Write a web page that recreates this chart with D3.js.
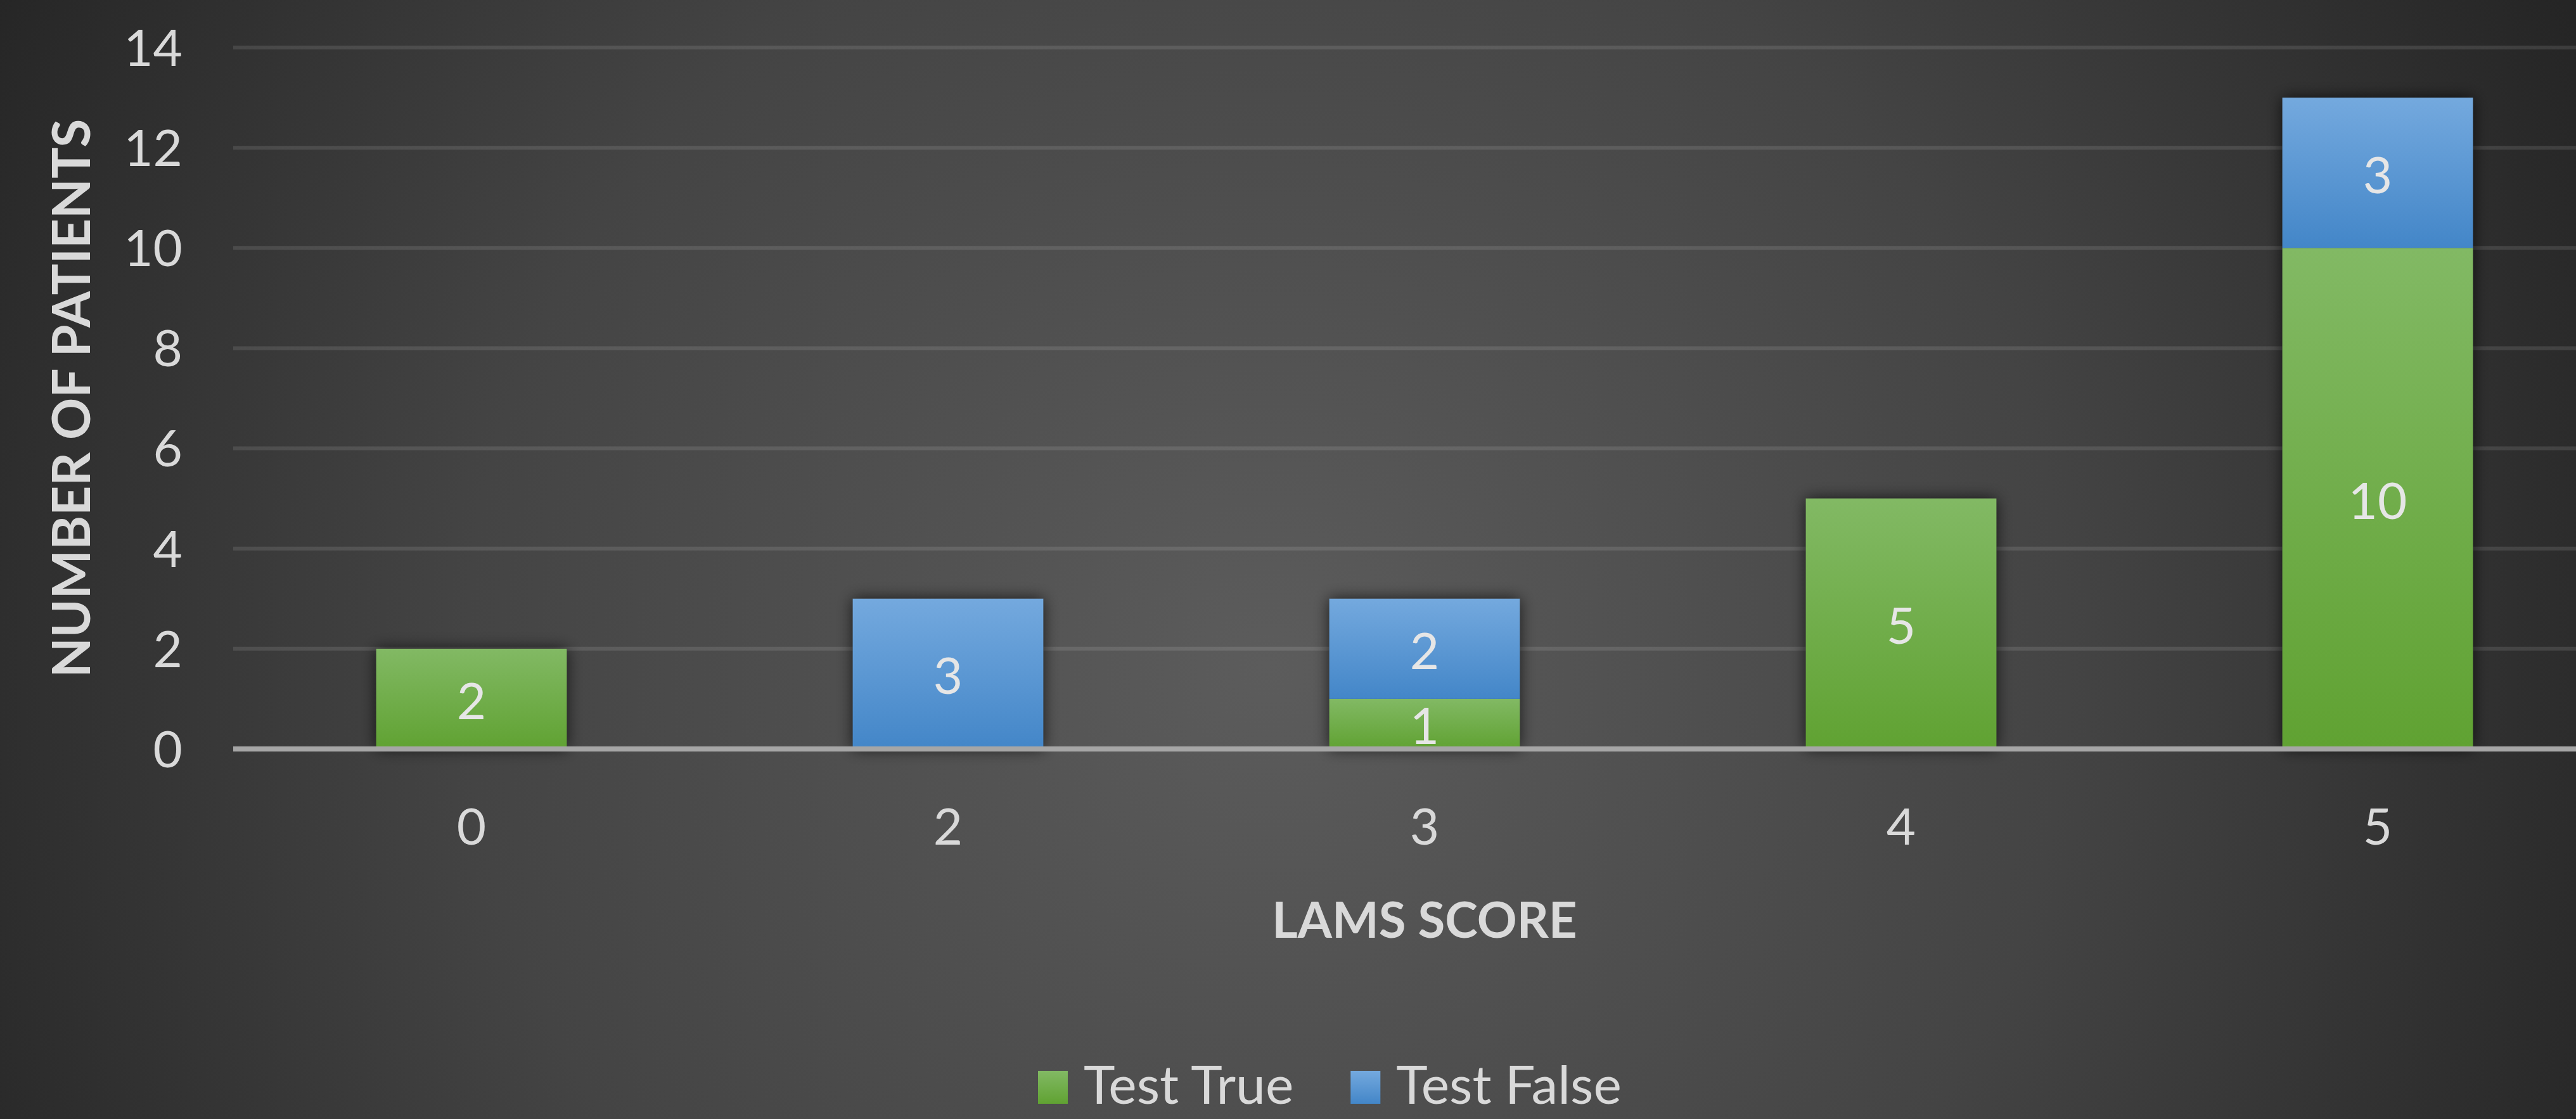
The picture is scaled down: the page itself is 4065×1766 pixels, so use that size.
<!DOCTYPE html>
<html>
<head>
<meta charset="utf-8">
<script src="https://cdn.jsdelivr.net/npm/d3@7"></script>
<style>
  html, body { margin: 0; padding: 0; background: #2b2b2b; }
  svg { display: block; font-family: Lato, "Open Sans", sans-serif; }
</style>
</head>
<body>
<svg width="4065" height="1766"></svg>
<script>
// chart values
var categories = ["0", "2", "3", "4", "5"];
var testTrue  = [2, 0, 1, 5, 10];
var testFalse = [0, 3, 2, 0, 3];
var seriesNames = ["Test True", "Test False"];
var yTicks = [0, 2, 4, 6, 8, 10, 12, 14];

var svg = d3.select("svg"),
    width = +svg.attr("width"),
    height = +svg.attr("height");

var defs = svg.append("defs");

// background radial gradient
var bg = defs.append("radialGradient")
    .attr("id", "bg")
    .attr("gradientUnits", "userSpaceOnUse")
    .attr("cx", 2000).attr("cy", 1050).attr("r", 2300);
bg.append("stop").attr("offset", "0%").attr("stop-color", "#5c5c5c");
bg.append("stop").attr("offset", "55%").attr("stop-color", "#444444");
bg.append("stop").attr("offset", "100%").attr("stop-color", "#252525");

function barGradient(id, top, bottom) {
  var lg = defs.append("linearGradient")
      .attr("id", id)
      .attr("x1", 0).attr("y1", 0).attr("x2", 0).attr("y2", 1);
  lg.append("stop").attr("offset", "0%").attr("stop-color", top);
  lg.append("stop").attr("offset", "100%").attr("stop-color", bottom);
}
barGradient("gTrue", "#82b964", "#60a232");
barGradient("gFalse", "#74a9de", "#4386c8");

var shadow = defs.append("filter")
    .attr("id", "shadow")
    .attr("x", "-30%").attr("y", "-30%")
    .attr("width", "160%").attr("height", "160%");
shadow.append("feDropShadow")
    .attr("dx", 0).attr("dy", 0)
    .attr("stdDeviation", 12)
    .attr("flood-color", "#000")
    .attr("flood-opacity", 0.7);

svg.append("rect")
    .attr("width", width).attr("height", height)
    .attr("fill", "url(#bg)");

// scales (plot runs past the right edge, as in the cropped original)
var x = d3.scaleBand()
    .domain(categories)
    .range([368, 4128])
    .paddingInner(0.6)
    .paddingOuter(0.3);

var y = d3.scaleLinear()
    .domain([0, 14])
    .range([1182, 75]);

var g = svg.append("g");

// gridlines
g.selectAll("line.grid")
    .data(yTicks.filter(function(d) { return d > 0; }))
    .enter().append("line")
    .attr("class", "grid")
    .attr("x1", 368).attr("x2", width)
    .attr("y1", function(d) { return y(d); })
    .attr("y2", function(d) { return y(d); })
    .attr("stroke", "#ffffff")
    .attr("stroke-opacity", 0.11)
    .attr("stroke-width", 6);

// y tick labels
g.selectAll("text.ytick")
    .data(yTicks)
    .enter().append("text")
    .attr("class", "ytick")
    .attr("x", 288)
    .attr("y", function(d) { return y(d); })
    .attr("dy", "0.36em")
    .attr("text-anchor", "end")
    .attr("fill", "#d9d9d9")
    .attr("font-size", 80)
    .text(function(d) { return d; });

// stacked data
var stackData = categories.map(function(c, i) {
  return { cat: c, "Test True": testTrue[i], "Test False": testFalse[i] };
});
var stacked = d3.stack().keys(seriesNames)(stackData);
var fills = { "Test True": "url(#gTrue)", "Test False": "url(#gFalse)" };

// bar shadows per column
g.selectAll("rect.shadow")
    .data(stackData)
    .enter().append("rect")
    .attr("class", "shadow")
    .attr("x", function(d) { return x(d.cat); })
    .attr("width", x.bandwidth())
    .attr("y", function(d) { return y(d["Test True"] + d["Test False"]); })
    .attr("height", function(d) { return y(0) - y(d["Test True"] + d["Test False"]); })
    .attr("fill", "#333")
    .attr("filter", "url(#shadow)");

var layer = g.selectAll("g.layer")
    .data(stacked)
    .enter().append("g")
    .attr("class", "layer")
    .attr("fill", function(d) { return fills[d.key]; });

layer.selectAll("rect")
    .data(function(d) { return d.filter(function(s) { return s[1] - s[0] > 0; }); })
    .enter().append("rect")
    .attr("x", function(d) { return x(d.data.cat); })
    .attr("width", x.bandwidth())
    .attr("y", function(d) { return y(d[1]); })
    .attr("height", function(d) { return y(d[0]) - y(d[1]); });

// value labels
layer.selectAll("text")
    .data(function(d) { return d.filter(function(s) { return s[1] - s[0] > 0; }); })
    .enter().append("text")
    .attr("x", function(d) { return x(d.data.cat) + x.bandwidth() / 2; })
    .attr("y", function(d) { return y((d[0] + d[1]) / 2); })
    .attr("dy", "0.4em")
    .attr("text-anchor", "middle")
    .attr("fill", "#e6e6e6")
    .attr("font-size", 80)
    .text(function(d) { return d[1] - d[0]; });

// zero axis line
g.append("line")
    .attr("x1", 368).attr("x2", width)
    .attr("y1", y(0)).attr("y2", y(0))
    .attr("stroke", "#a6a6a6")
    .attr("stroke-width", 8);

// x tick labels
g.selectAll("text.xtick")
    .data(categories)
    .enter().append("text")
    .attr("class", "xtick")
    .attr("x", function(d) { return x(d) + x.bandwidth() / 2; })
    .attr("y", 1304)
    .attr("dy", "0.36em")
    .attr("text-anchor", "middle")
    .attr("fill", "#d9d9d9")
    .attr("font-size", 80)
    .text(function(d) { return d; });

// axis titles
g.append("text")
    .attr("x", x("3") + x.bandwidth() / 2)
    .attr("y", 1452)
    .attr("dy", "0.36em")
    .attr("text-anchor", "middle")
    .attr("fill", "#d9d9d9")
    .attr("font-size", 78)
    .attr("font-weight", "bold")
    .text("LAMS SCORE");

g.append("text")
    .attr("transform", "translate(112," + (y(0) + y(14)) / 2 + ") rotate(-90)")
    .attr("dy", "0.36em")
    .attr("text-anchor", "middle")
    .attr("fill", "#d9d9d9")
    .attr("font-size", 82)
    .attr("font-weight", "bold")
    .text("NUMBER OF PATIENTS");

// legend (kept just inside the bottom edge)
var legend = g.append("g").attr("transform", "translate(1638,1712)");
var lx = 0;
seriesNames.forEach(function(name) {
  legend.append("rect")
      .attr("x", lx).attr("y", -22)
      .attr("width", 47).attr("height", 52)
      .attr("fill", fills[name]);
  var t = legend.append("text")
      .attr("x", lx + 72)
      .attr("dy", "0.36em")
      .attr("fill", "#d9d9d9")
      .attr("font-size", 84)
      .text(name);
  lx += 72 + t.node().getComputedTextLength() + 90;
});
</script>
</body>
</html>
